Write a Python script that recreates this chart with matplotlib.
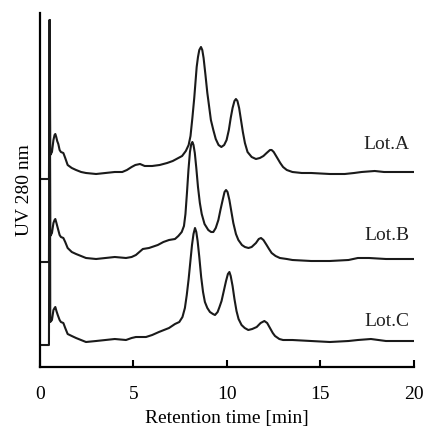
"""
Chromatogram of three lots (UV 280 nm), traces stacked vertically
"""
import matplotlib
matplotlib.use('Agg')
import matplotlib.pyplot as plt

# retention time [min] and signal height (arbitrary units)
tA = [0.0, 0.3, 0.48, 0.52, 0.55, 0.64, 0.72, 0.78, 0.82, 0.87,
      0.92, 0.98, 1.05, 1.12, 1.25, 1.35, 1.48, 1.7, 1.93, 2.2,
      2.46, 3.0, 3.5, 4.0, 4.4, 4.65, 4.9, 5.1, 5.35, 5.6,
      6.0, 6.4, 6.8, 7.1, 7.4, 7.6, 7.8, 7.95, 8.05, 8.15,
      8.25, 8.38, 8.45, 8.52, 8.61, 8.68, 8.75, 8.85, 8.95, 9.0,
      9.14, 9.27, 9.4, 9.55, 9.7, 9.85, 9.98, 10.1, 10.2, 10.3,
      10.4, 10.48, 10.56, 10.65, 10.75, 10.85, 10.96, 11.1, 11.32, 11.55,
      11.76, 11.95, 12.12, 12.3, 12.39, 12.5, 12.66, 12.85, 13.0, 13.2,
      13.5, 14.0, 14.5, 15.5, 16.3, 16.8, 17.2, 17.9, 18.4, 18.8, 20.0]
hA = [188, 188, 188, 347, 212, 215, 227, 232, 233, 230,
      226, 223, 217, 215, 214, 209, 202, 199, 197, 195,
      194, 193, 194, 195, 195, 197, 200, 202, 203, 201,
      201, 202, 204, 206, 209, 211, 216, 222, 231, 249,
      269, 300, 310, 317, 320, 317, 309, 292, 274, 267,
      247, 237, 228, 222, 220, 222, 227, 237, 249, 259,
      266, 268, 266, 259, 247, 235, 224, 215, 210, 208,
      209, 211, 214, 217, 217, 215, 210, 204, 200, 197,
      195, 194, 194, 193, 193, 194, 195, 196, 195, 195, 195]

tB = [0.0, 0.3, 0.48, 0.52, 0.55, 0.64, 0.72, 0.78, 0.82, 0.88,
      0.95, 1.05, 1.12, 1.25, 1.35, 1.48, 1.7, 1.93, 2.46, 3.0,
      3.5, 4.0, 4.6, 4.9, 5.13, 5.5, 5.83, 6.3, 6.6, 6.9,
      7.22, 7.4, 7.58, 7.7, 7.78, 7.86, 7.94, 8.02, 8.09, 8.15,
      8.21, 8.28, 8.36, 8.45, 8.55, 8.65, 8.8, 9.0, 9.15, 9.27,
      9.4, 9.54, 9.65, 9.77, 9.87, 9.95, 10.03, 10.13, 10.23, 10.34,
      10.48, 10.61, 10.8, 10.96, 11.15, 11.32, 11.55, 11.7, 11.82, 11.95,
      12.12, 12.25, 12.39, 12.6, 12.83, 13.2, 13.5, 14.5, 15.5, 16.5,
      17.0, 17.6, 18.5, 20.0]
hB = [105, 105, 105, 347, 131, 134, 144, 147, 148, 144,
      139, 132, 130, 129, 125, 119, 115, 113, 109, 108,
      109, 110, 109, 110, 112, 118, 119, 122, 125, 127,
      128, 131, 135, 141, 153, 174, 197, 215, 223, 225,
      222, 214, 199, 180, 164, 153, 143, 137, 135, 135,
      139, 147, 157, 167, 175, 177, 175, 167, 156, 144,
      133, 127, 122, 120, 119, 120, 124, 128, 129, 127,
      122, 118, 114, 111, 109, 108, 107, 106, 106, 107,
      109, 109, 108, 108]

tC = [0.0, 0.3, 0.48, 0.52, 0.55, 0.64, 0.72, 0.78, 0.82, 0.88,
      0.95, 1.05, 1.12, 1.25, 1.35, 1.48, 1.7, 1.93, 2.46, 3.0,
      3.5, 4.0, 4.6, 4.9, 5.13, 5.67, 6.0, 6.36, 6.9, 7.22,
      7.45, 7.62, 7.75, 7.85, 7.95, 8.05, 8.13, 8.21, 8.29, 8.36,
      8.43, 8.52, 8.62, 8.72, 8.82, 8.95, 9.09, 9.25, 9.36, 9.5,
      9.6, 9.71, 9.83, 9.95, 10.05, 10.13, 10.2, 10.3, 10.4, 10.51,
      10.62, 10.78, 10.95, 11.14, 11.35, 11.59, 11.8, 12.0, 12.15, 12.3,
      12.45, 12.57, 12.8, 13.0, 13.5, 14.5, 15.5, 16.5, 17.0, 17.7,
      18.5, 20.0]
hC = [22, 22, 22, 347, 45, 47, 57, 59, 60, 56,
      52, 47, 45, 44, 39, 33, 31, 29, 25, 26,
      27, 28, 27, 29, 30, 30, 32, 35, 39, 43,
      45, 50, 59, 72, 88, 107, 122, 133, 139, 135,
      126, 110, 90, 75, 65, 59, 55, 53, 52, 55,
      60, 66, 76, 86, 93, 95, 91, 81, 68, 56,
      48, 42, 39, 37, 38, 40, 44, 46, 44, 39,
      34, 31, 28, 27, 27, 26, 25, 26, 27, 28,
      26, 26]

lots = ['Lot.A', 'Lot.B', 'Lot.C']
label_h = [222, 131, 46]  # height of each lot label

plt.rcParams['font.family'] = ['Liberation Serif', 'DejaVu Serif']

fig = plt.figure(figsize=(4.24, 4.30), dpi=100)
ax = fig.add_axes([0.0943, 0.1465, 0.882, 0.8233])

for t, h in [(tA, hA), (tB, hB), (tC, hC)]:
    ax.plot(t, h, color='#1a1a1a', lw=1.5, solid_joinstyle='round')

for name, y in zip(lots, label_h):
    ax.text(19.75, y, name, ha='right', va='center', fontsize=14, color='#222222')

ax.set_xlim(0, 20)
ax.set_ylim(0, 354)
ax.set_xticks([0, 5, 10, 15, 20])
ax.set_yticks([])
ax.tick_params(axis='x', direction='in', length=5, width=1.5, labelsize=14, pad=14)
for s in ['top', 'right']:
    ax.spines[s].set_visible(False)
for s in ['left', 'bottom']:
    ax.spines[s].set_linewidth(1.6)
ax.set_xlabel('Retention time [min]', fontsize=14, labelpad=5)
ax.set_ylabel('UV 280 nm', fontsize=14, labelpad=5)

plt.savefig('out.png', dpi=100)
